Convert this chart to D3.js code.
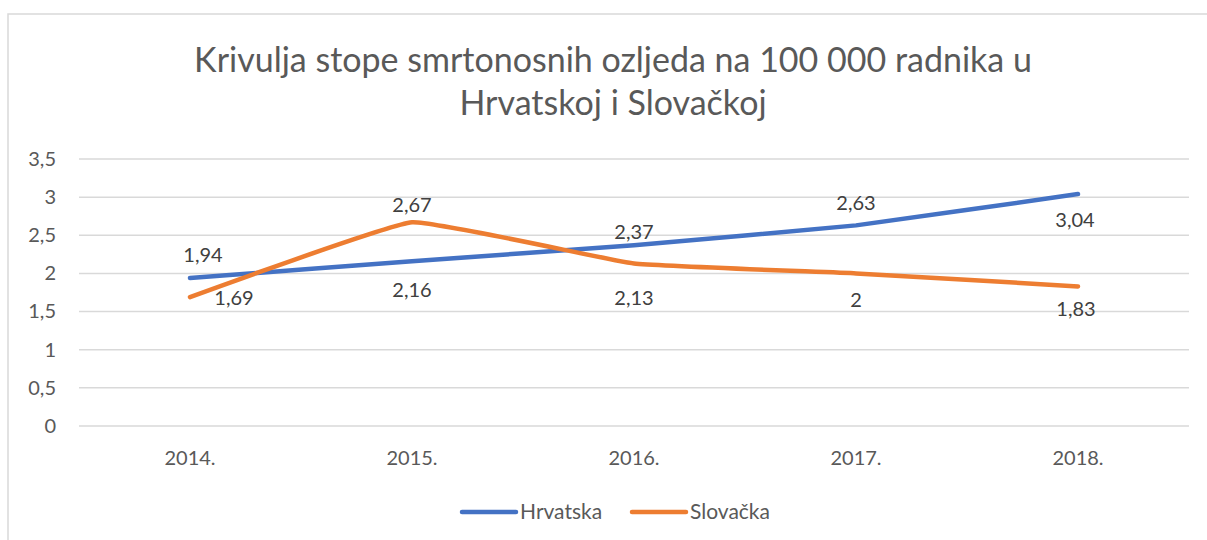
<html>

<head>
    <script src="https://d3js.org/d3.v7.min.js"></script>
    <style>
        body { margin: 0; background: white; }
        text { font-family: Lato, "Open Sans", sans-serif; }
    </style>
</head>

<body>
    <svg id="chart" width="1207" height="540"></svg>
    <script>

        const years = ["2014.", "2015.", "2016.", "2017.", "2018."]
        const hrvatska = [1.94, 2.16, 2.37, 2.63, 3.04]
        const slovacka = [1.69, 2.67, 2.13, 2.00, 1.83]
        const seriesNames = ["Hrvatska", "Slovačka"]
        const yTicks = [0, 0.5, 1, 1.5, 2, 2.5, 3, 3.5]
        const titleLines = ["Krivulja stope smrtonosnih ozljeda na 100 000 radnika u", "Hrvatskoj i Slovačkoj"]

        // where excel put each data label, relative to its point
        const labelShift = [
            [[13, -23], [0, 29], [0, -13], [0, -22], [-3, 26]],
            [[44, 1], [0, -17], [0, 34], [0, 27], [-2, 23]]
        ]

        const colors = ["#4472c4", "#ed7d31"]
        const svg = d3.select("#chart")

        svg.append("rect")
            .attr("x", 8).attr("y", 14)
            .attr("width", 1230).attr("height", 560)
            .style("fill", "white")
            .style("stroke", "#d9d9d9")
            .style("stroke-width", 1.5)

        svg.selectAll("text.title").data(titleLines)
            .join("text")
            .attr("class", "title")
            .attr("x", 613)
            .attr("y", (d, i) => 72 + i * 43)
            .attr("text-anchor", "middle")
            .style("font-size", "34px")
            .style("fill", "#595959")
            .text(d => d)

        const x = d3.scaleBand().domain(years).range([79, 1189])
        const y = d3.scaleLinear().domain([0, 3.5]).range([426, 159])

        svg.selectAll("line.grid").data(yTicks)
            .join("line")
            .attr("class", "grid")
            .attr("x1", 79).attr("x2", 1189)
            .attr("y1", d => y(d)).attr("y2", d => y(d))
            .style("stroke", "#d9d9d9")
            .style("stroke-width", 1.5)

        const yAxis = svg.append("g")
            .attr("transform", "translate(64,0)")
            .call(d3.axisLeft(y).tickValues(yTicks).tickSize(0).tickPadding(8)
                .tickFormat(d => String(d).replace(".", ",")))
        yAxis.select(".domain").remove()
        yAxis.selectAll("text")
            .style("font-size", "20px")
            .style("font-family", "Lato, sans-serif")
            .style("fill", "#595959")

        const xAxis = svg.append("g")
            .attr("transform", "translate(0,426)")
            .call(d3.axisBottom(x).tickSize(0).tickPadding(25))
        xAxis.select(".domain").remove()
        xAxis.selectAll("text")
            .style("font-size", "20px")
            .style("font-family", "Lato, sans-serif")
            .style("fill", "#595959")

        const cx = d => x(d) + x.bandwidth() / 2
        const line = d3.line()
            .x((d, i) => cx(years[i]))
            .y(d => y(d))
            .curve(d3.curveCardinal.tension(0.7))

        const allSeries = [hrvatska, slovacka]

        allSeries.forEach((vals, s) => {
            svg.append("path").datum(vals)
                .attr("d", line)
                .style("fill", "none")
                .style("stroke", colors[s])
                .style("stroke-width", 4.5)
                .style("stroke-linecap", "round")
                .style("stroke-linejoin", "round")
        })

        allSeries.forEach((vals, s) => {
            svg.selectAll("text.lab" + s).data(vals)
                .join("text")
                .attr("class", "lab" + s)
                .attr("x", (d, i) => cx(years[i]) + labelShift[s][i][0])
                .attr("y", (d, i) => y(d) + labelShift[s][i][1])
                .attr("dy", "0.35em")
                .attr("text-anchor", "middle")
                .style("font-size", "20px")
                .style("fill", "#404040")
                .text(d => String(d).replace(".", ","))
        })

        // legend
        const legendX = [462, 632]
        seriesNames.forEach((name, s) => {
            svg.append("line")
                .attr("x1", legendX[s]).attr("x2", legendX[s] + 54)
                .attr("y1", 512).attr("y2", 512)
                .style("stroke", colors[s])
                .style("stroke-width", 4.5)
                .style("stroke-linecap", "round")
            svg.append("text")
                .attr("x", legendX[s] + 58)
                .attr("y", 512)
                .attr("dy", "0.35em")
                .style("font-size", "21px")
                .style("fill", "#595959")
                .text(name)
        })

    </script>
</body>

</html>
